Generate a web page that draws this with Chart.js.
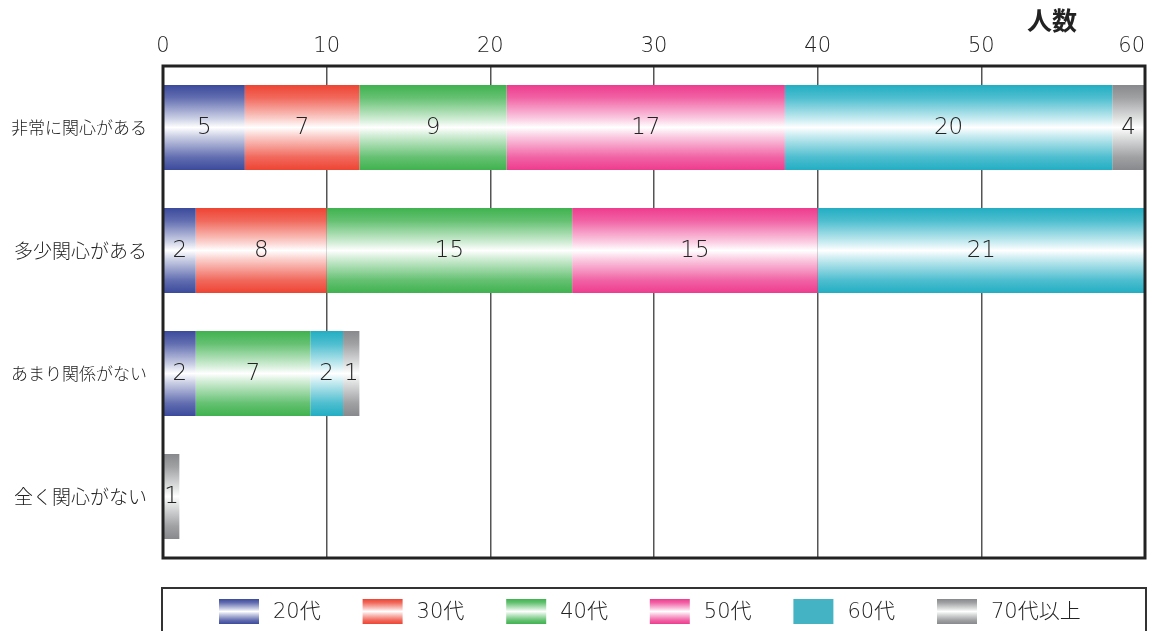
<!DOCTYPE html>
<html>
<head>
<meta charset="utf-8">
<script src="https://cdn.jsdelivr.net/npm/chart.js@4.4.1/dist/chart.umd.min.js"></script>
<style>
html,body{margin:0;padding:0;background:#fff;}
canvas{display:block;}
</style>
</head>
<body>
<canvas id="c" width="1154" height="631"></canvas>
<script>
const categories = ['非常に関心がある', '多少関心がある', 'あまり関係がない', '全く関心がない'];
const seriesNames = ['20代', '30代', '40代', '50代', '60代', '70代以上'];
const s20 = [5, 2, 2, null];
const s30 = [7, 8, null, null];
const s40 = [9, 15, 7, null];
const s50 = [17, 15, null, null];
const s60 = [20, 21, 2, null];
const s70 = [4, null, 1, 1];
const tickValues = [0, 10, 20, 30, 40, 50, 60];
const axisTitle = '人数';

const seriesValues = [s20, s30, s40, s50, s60, s70];
const colors = ['#3b4a9c', '#ee4433', '#3fb24f', '#ee3c8e', '#22aec3', '#88898c'];
const legendSolid = [null, null, null, null, '#44b4c5', null];
const FONT = '"Noto Sans CJK JP", "Noto Sans", sans-serif';
const NUMFONT = '"DejaVu Sans", "Noto Sans CJK JP", sans-serif';
const BAR_FRAC = 0.69;

function mix(hex, t) {
  const n = parseInt(hex.slice(1), 16);
  const r = (n >> 16) & 255, g = (n >> 8) & 255, b = n & 255;
  const f = v => Math.round(v + (255 - v) * t);
  return `rgb(${f(r)},${f(g)},${f(b)})`;
}
function grad(c2d, y0, y1, color) {
  const g = c2d.createLinearGradient(0, y0, 0, y1);
  g.addColorStop(0, color);
  g.addColorStop(0.15, mix(color, 0.2));
  g.addColorStop(0.40, mix(color, 0.75));
  g.addColorStop(0.5, '#ffffff');
  g.addColorStop(0.60, mix(color, 0.75));
  g.addColorStop(0.85, mix(color, 0.2));
  g.addColorStop(1, color);
  return g;
}
function barFill(color) {
  return (ctx) => {
    const chart = ctx.chart;
    const area = chart.chartArea;
    if (!area || ctx.type !== 'data' || !chart.scales.y) return color;
    const yc = chart.scales.y.getPixelForValue(ctx.dataIndex);
    const h = (area.bottom - area.top) / categories.length * BAR_FRAC;
    return grad(chart.ctx, yc - h / 2, yc + h / 2, color);
  };
}

const framePlugin = {
  id: 'frame',
  afterDatasetsDraw(chart) {
    const {ctx, chartArea: a} = chart;
    ctx.save();
    ctx.strokeStyle = '#222';
    ctx.lineWidth = 3;
    ctx.strokeRect(a.left, a.top, a.right - a.left, a.bottom - a.top);
    ctx.restore();
  }
};

const valueLabels = {
  id: 'valueLabels',
  afterDatasetsDraw(chart) {
    const {ctx, chartArea: a} = chart;
    ctx.save();
    ctx.font = '200 23px ' + NUMFONT;
    ctx.fillStyle = '#222';
    ctx.textAlign = 'center';
    ctx.textBaseline = 'middle';
    chart.data.datasets.forEach((ds, di) => {
      const meta = chart.getDatasetMeta(di);
      meta.data.forEach((el, i) => {
        const v = ds.data[i];
        if (v === null || v === undefined) return;
        const x0 = Math.max(Math.min(el.base, el.x), a.left);
        const x1 = Math.min(Math.max(el.base, el.x), a.right);
        if (x1 <= x0) return;
        ctx.fillText(String(v), (x0 + x1) / 2, el.y + 1);
      });
    });
    ctx.restore();
  }
};

const extras = {
  id: 'extras',
  afterDraw(chart) {
    const ctx = chart.ctx;
    ctx.save();
    ctx.font = 'bold 25px ' + FONT;
    ctx.fillStyle = '#222';
    ctx.textAlign = 'center';
    ctx.textBaseline = 'middle';
    ctx.fillText(axisTitle, 1052, 20);
    ctx.strokeStyle = '#333';
    ctx.lineWidth = 2;
    ctx.strokeRect(162, 588, 984, 70);
    ctx.font = '200 21px ' + NUMFONT;
    ctx.textAlign = 'left';
    seriesNames.forEach((name, i) => {
      const x = 219 + i * 143.6;
      const y = 599, w = 40, h = 25;
      ctx.fillStyle = legendSolid[i] ? legendSolid[i] : grad(ctx, y, y + h, colors[i]);
      ctx.fillRect(x, y, w, h);
      ctx.fillStyle = '#222';
      ctx.fillText(name, x + 54, y + h / 2 + 1);
    });
    ctx.restore();
  }
};

const datasets = seriesNames.map((name, i) => ({
  label: name,
  data: seriesValues[i],
  backgroundColor: barFill(colors[i]),
  borderWidth: 0,
  categoryPercentage: 1,
  barPercentage: BAR_FRAC
}));

new Chart(document.getElementById('c'), {
  type: 'bar',
  data: {labels: categories, datasets},
  options: {
    indexAxis: 'y',
    responsive: false,
    animation: false,
    devicePixelRatio: 1,
    layout: {padding: {left: 0, right: 9, top: 0, bottom: 73}},
    plugins: {legend: {display: false}, tooltip: {enabled: false}},
    scales: {
      x: {
        position: 'top',
        stacked: true,
        min: 0,
        max: 60,
        afterBuildTicks(scale) {
          scale.ticks = tickValues.map(v => ({value: v}));
        },
        afterFit(scale) {
          scale.height = 66;
          scale.paddingRight = 0;
        },
        grid: {color: '#555', lineWidth: 1.5, drawTicks: false},
        border: {display: false},
        ticks: {
          padding: 7,
          color: '#222',
          font: {family: NUMFONT, size: 21, weight: 200},
          callback: (v) => v === 60 ? '60\u2007\u2007' : String(v)
        }
      },
      y: {
        stacked: true,
        afterFit(scale) { scale.width = 163; },
        grid: {display: false, drawTicks: false},
        border: {display: false},
        ticks: {
          padding: 16,
          color: '#222',
          font: (ctx) => {
            const label = categories[ctx.index] || '';
            return {family: FONT, size: Math.min(19, Math.floor(136 / label.length)), weight: 300};
          }
        }
      }
    }
  },
  plugins: [framePlugin, valueLabels, extras]
});
</script>
</body>
</html>
